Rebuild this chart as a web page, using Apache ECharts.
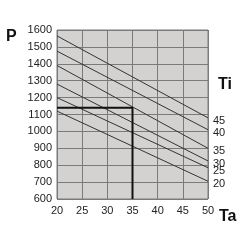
<!DOCTYPE html>
<html>
<head>
<meta charset="utf-8">
<script src="https://cdn.jsdelivr.net/npm/echarts@6/dist/echarts.min.js"></script>
<style>
  html, body { margin: 0; padding: 0; background: #fff; }
  #chart { width: 250px; height: 250px; }
</style>
</head>
<body>
<div id="chart"></div>
<script>
// Ti curves: P at Ta=20 and Ta=50
const tiLabels = ['45', '40', '35', '30', '25', '20']
const pStart = [1565, 1475, 1390, 1280, 1200, 1120]
const pEnd = [1080, 1010, 900, 825, 785, 705]
const taRange = [20, 50]
// reading example: Ta=35 -> P=1140
const readTa = 35
const readP = 1140

const chart = echarts.init(document.getElementById('chart'))

const tiSeries = tiLabels.map((ti, i) => ({
  type: 'line',
  data: [[taRange[0], pStart[i]], [taRange[1], pEnd[i]]],
  symbol: 'none',
  silent: true,
  lineStyle: { color: '#333', width: 1 },
  endLabel: {
    show: true,
    formatter: ti,
    color: '#222',
    fontSize: 11,
    fontFamily: 'Liberation Sans',
    distance: 5,
    offset: [0, 3]
  }
}))

const option = {
  animation: false,
  grid: {
    left: 57, right: 42, top: 30, bottom: 51,
    show: true,
    backgroundColor: '#d4d2d0',
    borderColor: '#7a7a7a',
    borderWidth: 1
  },
  xAxis: {
    type: 'value',
    min: 20, max: 50, interval: 5,
    axisLine: { show: false },
    axisTick: { show: false },
    axisLabel: { color: '#222', fontSize: 11, fontFamily: 'Liberation Sans', margin: 6 },
    splitLine: { lineStyle: { color: '#7a7a7a', width: 1 } }
  },
  yAxis: {
    type: 'value',
    min: 600, max: 1600, interval: 100,
    axisLine: { show: false },
    axisTick: { show: false },
    axisLabel: {
      color: '#222', fontSize: 11, fontFamily: 'Liberation Sans', margin: 5,
      formatter: v => String(v)
    },
    splitLine: { lineStyle: { color: '#7a7a7a', width: 1 } }
  },
  graphic: [
    { type: 'text', left: 6, top: 29, style: { text: 'P', font: 'bold 16px Liberation Sans', fill: '#111' } },
    { type: 'text', left: 218, top: 77, style: { text: 'Ti', font: 'bold 16px Liberation Sans', fill: '#111' } },
    { type: 'text', left: 219, top: 209, style: { text: 'Ta', font: 'bold 16px Liberation Sans', fill: '#111' } }
  ],
  series: tiSeries.concat([{
    type: 'line',
    data: [[taRange[0], readP], [readTa, readP], [readTa, 600]],
    symbol: 'none',
    silent: true,
    lineStyle: { color: '#111', width: 2 }
  }])
}

chart.setOption(option)
</script>
</body>
</html>
